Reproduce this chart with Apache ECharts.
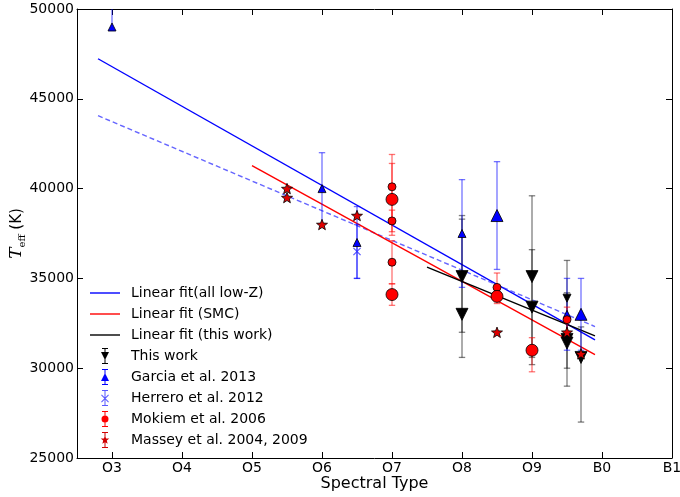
<!DOCTYPE html>
<html><head><meta charset="utf-8">
<script src="https://cdn.jsdelivr.net/npm/echarts@6/dist/echarts.min.js"></script>
<style>html,body{margin:0;padding:0;background:#fff}#c{width:680px;height:497px}</style>
</head><body><div id="c"></div>
<script>
// ---- axis ticks ----
const specTickValues = [3, 4, 5, 6, 7, 8, 9, 10, 11];
const specTickLabels = ['O3', 'O4', 'O5', 'O6', 'O7', 'O8', 'O9', 'B0', 'B1'];

// ---- linear fits (end points) ----
const fitAllLowZSpec = [2.8, 9.9];
const fitAllLowZTeff = [47230, 31580];
const fitDashedSpec = [2.8, 9.9];
const fitDashedTeff = [44060, 32320];
const fitSMCSpec = [5.0, 9.9];
const fitSMCTeff = [41280, 30750];
const fitThisWorkSpec = [7.5, 9.9];
const fitThisWorkTeff = [35630, 31800];

// ---- This work ----
const thisWorkSpec = [8, 8, 9, 9, 9.5, 9.5, 9.5, 9.7];
const thisWorkTeff = [35100, 33000, 35100, 33400, 33900, 31600, 31400, 30600];
const thisWorkLow = [32000, 30600, 30600, 30200, 31900, 29000, 30000, 27000];
const thisWorkHigh = [38500, 38300, 39600, 36600, 36000, 34200, 32800, 32300];
const thisWorkLarge = [1, 1, 1, 1, 0, 1, 1, 1];

// ---- Garcia et al. 2013 ----
const garciaSpec = [3, 6, 6.5, 8, 8.5, 9.5, 9.7];
const garciaTeff = [49000, 40000, 37000, 37500, 38500, 33000, 33000];
const garciaLow = [48800, 38000, 35000, 34500, 35500, 31000, 31000];
const garciaHigh = [51000, 42000, 39000, 40500, 41500, 35000, 35000];
const garciaLarge = [0, 0, 0, 0, 1, 0, 1];

// ---- Herrero et al. 2012 ----
const herreroSpec = [6.5];
const herreroTeff = [36500];
const herreroLow = [35000];
const herreroHigh = [38000];

// ---- Mokiem et al. 2006 ----
const mokiemSpec = [7, 7, 7, 7, 7, 8.5, 8.5, 9, 9.5];
const mokiemTeff = [40100, 39400, 38200, 35900, 34100, 34500, 34000, 31000, 32700];
const mokiemLow = [38300, 37400, 37600, 34700, 33500, 33700, 33600, 29800, 32000];
const mokiemHigh = [41900, 41400, 38800, 37100, 34700, 35300, 34400, 31700, 33400];
const mokiemLarge = [0, 1, 0, 0, 1, 0, 1, 1, 0];

// ---- Massey et al. 2004, 2009 ----
const masseySpec = [5.5, 5.5, 6, 6.5, 8.5, 9.5, 9.7];
const masseyTeff = [40000, 39500, 38000, 38500, 32000, 32000, 30800];

// ---------------------------------------------------------------
const FONT = 'DejaVu Sans';
const STAR = 'path://M5 3.5L6.12 6.46L9.28 6.61L6.81 8.59L7.65 11.64L5 9.9L2.35 11.64L3.19 8.59L0.72 6.61L3.88 6.46Z';
const XMARK = 'path://M2.3 4.6L8.4 10.7L7.7 11.4L1.6 5.3ZM7.7 4.6L8.4 5.3L2.3 11.4L1.6 10.7Z';
const BAR = 'M2 0L8 0L8 1L2 1ZM4.5 0L5.5 0L5.5 16L4.5 16ZM2 15L8 15L8 16L2 16Z';
const ICON_LINE = 'path://M0 7.3L30 7.3L30 8.7L0 8.7Z';
const ICON_DOWN = 'path://' + BAR + 'M1 4L9 4L5 12Z';
const ICON_UP = 'path://' + BAR + 'M1 12L5 4L9 12Z';
const ICON_X = 'path://' + BAR + 'M1.8 4.6L8.9 11.7L8.2 12.4L1.1 5.3ZM8.2 4.6L8.9 5.3L1.8 12.4L1.1 11.7Z';
const ICON_CIRC = 'path://' + BAR + 'M1.5 8A3.5 3.5 0 1 1 8.5 8A3.5 3.5 0 1 1 1.5 8Z';
const ICON_STAR = 'path://' + BAR + 'M5 3.5L6.12 6.46L9.28 6.61L6.81 8.59L7.65 11.64L5 9.9L2.35 11.64L3.19 8.59L0.72 6.61L3.88 6.46Z';

function zip(a, b) { return a.map((v, i) => [v, b[i]]); }
function pts(spec, teff, large) { return spec.map((v, i) => [v, teff[i], large ? large[i] : 0]); }
function errs(spec, lo, hi) { return spec.map((v, i) => [v, lo[i], hi[i]]); }

function errSeries(name, data, color) {
  return {
    type: 'custom', name: name, z: 3, clip: true,
    encode: { x: 0, y: [1, 2] },
    data: data,
    renderItem: function (params, api) {
      const x = api.value(0), lo = api.value(1), hi = api.value(2);
      const a = api.coord([x, lo]), b = api.coord([x, hi]);
      const cw = 3.2;
      const st = { stroke: color, lineWidth: 1.3, fill: null };
      return {
        type: 'group', children: [
          { type: 'line', shape: { x1: a[0], y1: a[1], x2: b[0], y2: b[1] }, style: st },
          { type: 'line', shape: { x1: a[0] - cw, y1: a[1], x2: a[0] + cw, y2: a[1] }, style: st },
          { type: 'line', shape: { x1: b[0] - cw, y1: b[1], x2: b[0] + cw, y2: b[1] }, style: st }
        ]
      };
    }
  };
}

function fitSeries(name, spec, teff, color, dashed) {
  return {
    type: 'line', name: name, z: 2, data: zip(spec, teff), symbol: 'none', silent: true,
    lineStyle: { color: color, width: 1.4, type: dashed ? [5, 3] : 'solid', opacity: dashed ? 0.75 : 1 },
    itemStyle: { color: color }
  };
}

function scatterSeries(name, data, symbol, color, bigSize, smallSize, rotate) {
  return {
    type: 'scatter', name: name, z: 4, data: data, symbol: symbol,
    symbolRotate: rotate || 0, symbolKeepAspect: true,
    symbolSize: function (v) { return v[2] ? bigSize : smallSize; },
    itemStyle: { color: color, borderColor: '#000', borderWidth: 0.8, opacity: 1 }
  };
}

const chart = echarts.init(document.getElementById('c'), null, { renderer: 'canvas' });

const axisLineStyle = { lineStyle: { color: '#000', width: 1 } };
const option = {
  backgroundColor: '#fff',
  animation: false,
  textStyle: { fontFamily: FONT },
  grid: { left: 77, right: 8, top: 9, bottom: 39, containLabel: false, outerBoundsMode: 'none' },
  xAxis: [{
    type: 'value', min: 2.5, max: 11, position: 'bottom',
    axisLine: axisLineStyle,
    axisTick: { inside: true, length: 6, lineStyle: { color: '#000' }, customValues: specTickValues },
    axisLabel: {
      customValues: specTickValues, margin: 3, color: '#000', fontSize: 14, fontFamily: FONT,
      formatter: function (v) { return specTickLabels[specTickValues.indexOf(Math.round(v))] || ''; }
    },
    splitLine: { show: false },
    name: 'Spectral Type', nameLocation: 'middle', nameGap: 18, nameMoveOverlap: false,
    nameTextStyle: { color: '#000', fontSize: 16, fontFamily: FONT }
  }, {
    type: 'value', min: 2.5, max: 11, position: 'top',
    axisLine: axisLineStyle,
    axisTick: { inside: true, length: 6, lineStyle: { color: '#000' }, customValues: specTickValues },
    axisLabel: { show: false }, splitLine: { show: false }
  }],
  yAxis: [{
    type: 'value', min: 25000, max: 50000, interval: 5000, position: 'left',
    axisLine: { show: true, lineStyle: { color: '#000', width: 1 } },
    axisTick: { show: true, inside: true, length: 6, lineStyle: { color: '#000' } },
    axisLabel: { margin: 3, color: '#000', fontSize: 14, fontFamily: FONT, formatter: function (v) { return String(v); } },
    splitLine: { show: false },
    name: '{it|T}{sub|eff} (K)', nameLocation: 'middle', nameGap: 50, nameRotate: 90, nameMoveOverlap: false,
    nameTextStyle: {
      color: '#000', fontSize: 15, fontFamily: FONT, lineHeight: 20,
      rich: {
        it: { fontStyle: 'italic', fontFamily: 'DejaVu Serif', fontSize: 17, color: '#000', lineHeight: 20 },
        sub: { fontFamily: 'DejaVu Serif', fontSize: 10, color: '#000', verticalAlign: 'bottom', lineHeight: 12 }
      }
    }
  }, {
    type: 'value', min: 25000, max: 50000, interval: 5000, position: 'right',
    axisLine: { show: true, lineStyle: { color: '#000', width: 1 } },
    axisTick: { show: true, inside: true, length: 6, lineStyle: { color: '#000' } },
    axisLabel: { show: false }, splitLine: { show: false }
  }],
  legend: {
    orient: 'vertical', left: 90, top: 285, padding: 0,
    itemWidth: 30, itemHeight: 16, itemGap: 5, selectedMode: false,
    symbolKeepAspect: true,
    textStyle: { color: '#000', fontSize: 14, fontFamily: FONT, padding: [0, 0, 0, 6], height: 16, lineHeight: 16 },
    data: [
      { name: 'Linear fit(all low-Z)', icon: ICON_LINE, itemStyle: { color: '#0000ff', borderWidth: 0 } },
      { name: 'Linear fit (SMC)', icon: ICON_LINE, itemStyle: { color: '#ff0000', borderWidth: 0 } },
      { name: 'Linear fit (this work)', icon: ICON_LINE, itemStyle: { color: '#000000', borderWidth: 0 } },
      { name: 'This work', icon: ICON_DOWN, itemStyle: { color: '#000', borderWidth: 0 } },
      { name: 'Garcia et al. 2013', icon: ICON_UP, itemStyle: { color: '#0000ff', borderWidth: 0 } },
      { name: 'Herrero et al. 2012', icon: ICON_X, itemStyle: { color: '#3030ff', borderWidth: 0 } },
      { name: 'Mokiem et al. 2006', icon: ICON_CIRC, itemStyle: { color: '#ff0000', borderWidth: 0 } },
      { name: 'Massey et al. 2004, 2009', icon: ICON_STAR, itemStyle: { color: '#d00000', borderWidth: 0 } }
    ]
  },
  series: [
    fitSeries('Linear fit(all low-Z)', fitAllLowZSpec, fitAllLowZTeff, '#0000ff', false),
    fitSeries('Linear fit (all low-Z), dashed', fitDashedSpec, fitDashedTeff, '#3333ff', true),
    fitSeries('Linear fit (SMC)', fitSMCSpec, fitSMCTeff, '#ff0000', false),
    fitSeries('Linear fit (this work)', fitThisWorkSpec, fitThisWorkTeff, '#000000', false),

    errSeries('err this work', errs(thisWorkSpec, thisWorkLow, thisWorkHigh), 'rgba(0,0,0,0.5)'),
    errSeries('err garcia', errs(garciaSpec, garciaLow, garciaHigh), 'rgba(0,0,255,0.55)'),
    errSeries('err herrero', errs(herreroSpec, herreroLow, herreroHigh), 'rgba(0,0,255,0.55)'),
    errSeries('err mokiem', errs(mokiemSpec, mokiemLow, mokiemHigh), 'rgba(255,0,0,0.55)'),

    scatterSeries('This work', pts(thisWorkSpec, thisWorkTeff, thisWorkLarge), 'triangle', '#000', 12, 8, 180),
    scatterSeries('Garcia et al. 2013', pts(garciaSpec, garciaTeff, garciaLarge), 'triangle', '#0000ff', 12, 8, 0),
    {
      type: 'scatter', name: 'Herrero et al. 2012', z: 4, data: pts(herreroSpec, herreroTeff),
      symbol: XMARK, symbolSize: 8, itemStyle: { color: '#2a2aff', borderWidth: 0 }
    },
    scatterSeries('Mokiem et al. 2006', pts(mokiemSpec, mokiemTeff, mokiemLarge), 'circle', '#ff0000', 12, 8, 0),
    scatterSeries('Massey et al. 2004, 2009', pts(masseySpec, masseyTeff), STAR, '#e00000', 11, 11, 0)
  ]
};
chart.setOption(option);
</script>
</body></html>
